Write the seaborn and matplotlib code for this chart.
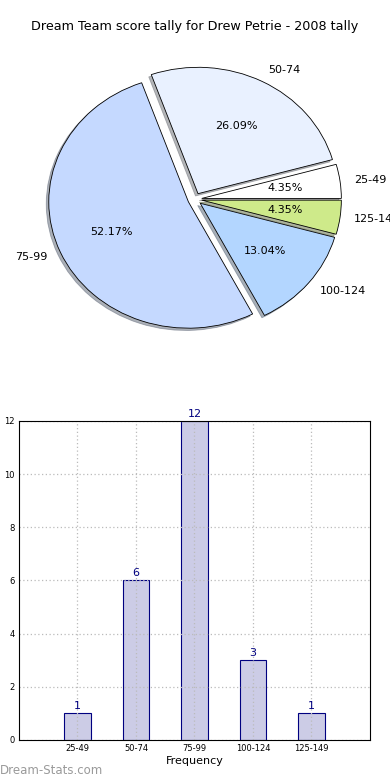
import matplotlib
matplotlib.use("Agg")
import matplotlib.pyplot as plt
import seaborn as sns
import pandas as pd

categories = ["25-49", "50-74", "75-99", "100-124", "125-149"]
counts = [1, 6, 12, 3, 1]
pie_colors = ["#ffffff", "#e9f1ff", "#c5d9ff", "#b3d6ff", "#ceea8a"]
title = "Dream Team score tally for Drew Petrie - 2008 tally"

sns.set_theme(style="white")
plt.rcParams['font.family'] = ['DejaVu Sans']
plt.rcParams['text.color'] = 'black'
plt.rcParams['axes.labelcolor'] = 'black'

fig = plt.figure(figsize=(3.9, 7.8), dpi=100)

# Pie
ax1 = fig.add_axes([0.052, 0.542, 0.895, 0.405])
wedges, texts, autotexts = ax1.pie(
    counts, labels=categories, colors=pie_colors, explode=[0.05] * len(counts),
    shadow={'ox': -0.013, 'oy': -0.013, 'shade': 0.55},
    autopct="%1.2f%%", startangle=0, counterclock=True,
    wedgeprops=dict(edgecolor="black", linewidth=0.6),
    textprops=dict(fontsize=8, color="black"))
ax1.set_aspect('auto')
ax1.set_xlim(-1.25, 1.25)
ax1.set_ylim(-1.25, 1.25)
ax1.set_title(title, fontsize=9.2, pad=8, color="black")

# Bars
ax2 = fig.add_axes([0.0487, 0.0513, 0.90, 0.409])
df = pd.DataFrame({"cat": categories, "count": counts})
sns.barplot(data=df, x="cat", y="count", ax=ax2, color="#ccccE6",
            edgecolor="#000080", linewidth=0.8, width=0.45, saturation=1)
for p in ax2.patches:
    p.set_facecolor("#ccccE6")
ax2.bar_label(ax2.containers[0], color="#000080", fontsize=8, padding=1.5)
ax2.set_xlim(-1, 5)
ax2.set_ylim(0, 12)
ax2.set_yticks(range(0, 13, 2))
ax2.tick_params(axis='both', labelsize=6, direction='in', length=3, width=0.6,
                colors="black", pad=3)
ax2.grid(True, linestyle=(0, (1, 2)), color='#bbbbbb', linewidth=0.9)
ax2.set_axisbelow('line')
for s in ax2.spines.values():
    s.set_color("black")
    s.set_linewidth(0.8)
    s.set_zorder(3)
ax2.set_xlabel("Frequency", fontsize=8, labelpad=2)
ax2.set_ylabel("Scores Tallied", fontsize=8, labelpad=4)

fig.text(0.0, 0.0128, "Dream-Stats.com", fontsize=8.5, color="#9a9a9a",
         ha="left", va="center")

fig.savefig("out.png", dpi=100)
